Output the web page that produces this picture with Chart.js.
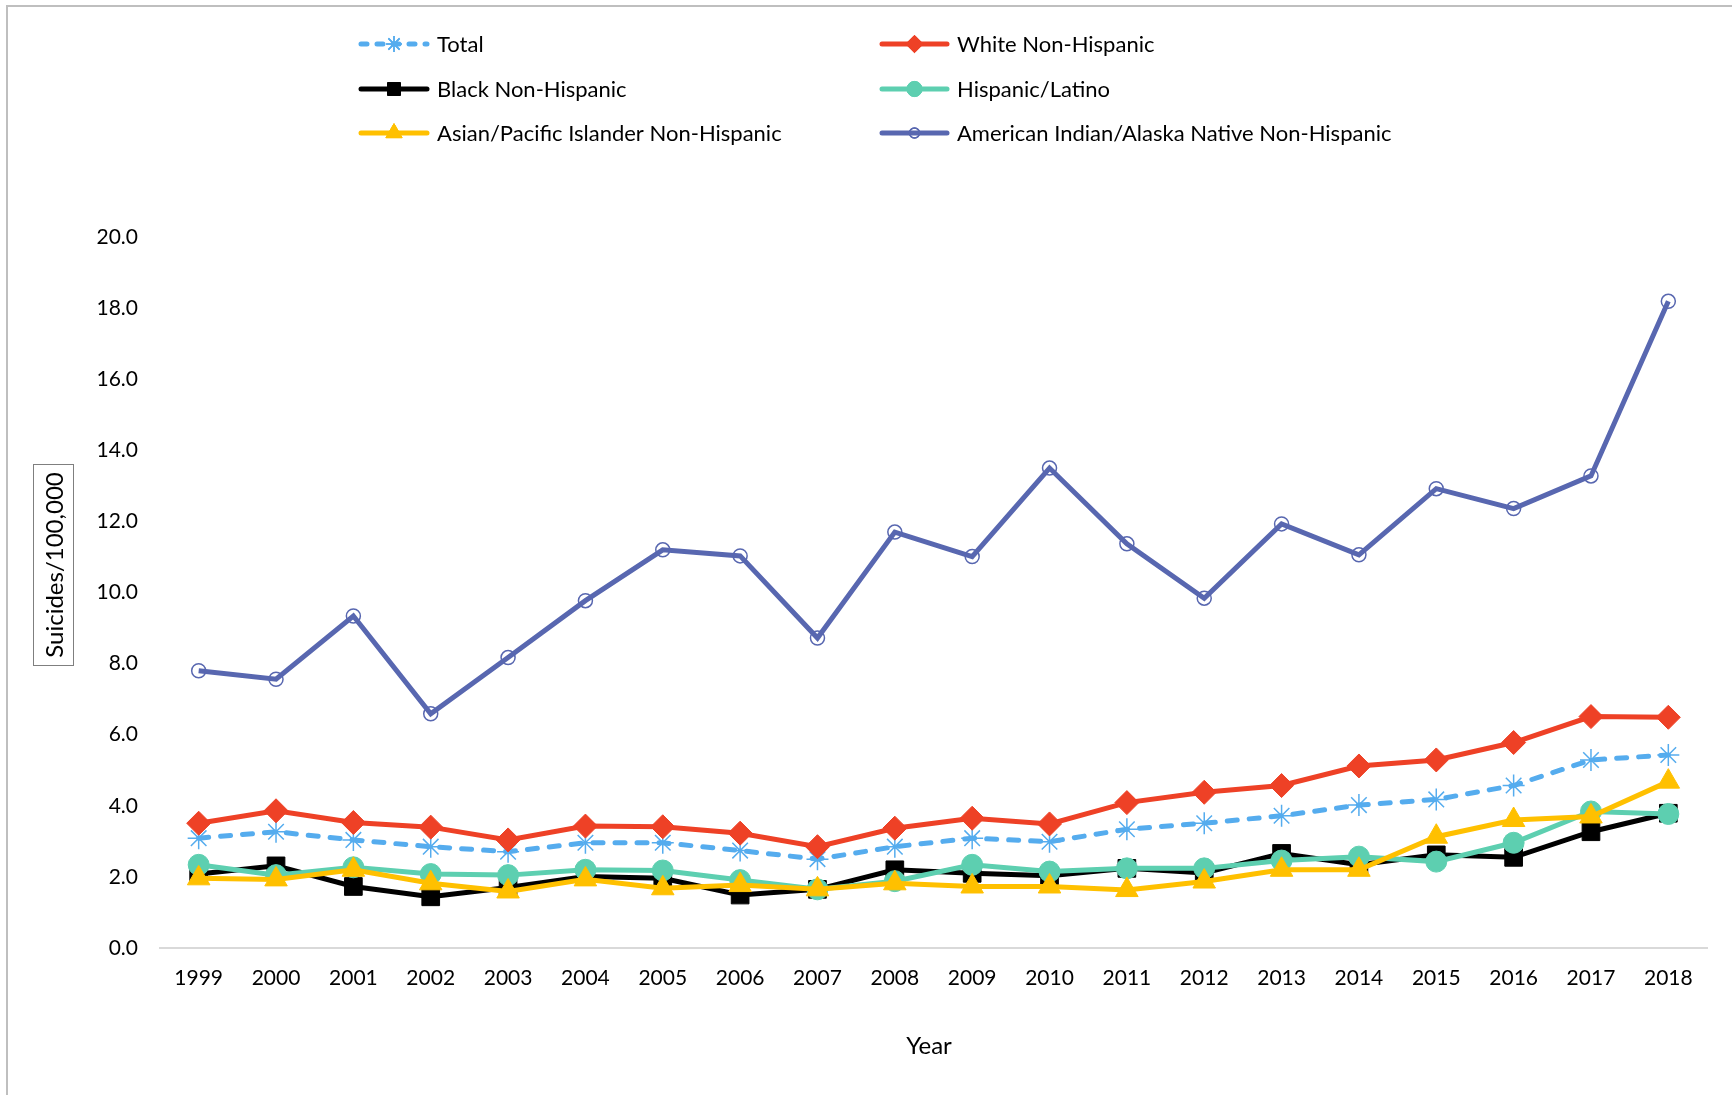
<!DOCTYPE html>
<html>
<head>
<meta charset="utf-8">
<script src="https://cdn.jsdelivr.net/npm/chart.js"></script>
<style>
  html, body { margin: 0; padding: 0; background: #fff; }
  #wrap { width: 1732px; height: 1095px; position: relative; }
</style>
</head>
<body>
<div id="wrap"><canvas id="c" width="1732" height="1095"></canvas></div>
<script>
// suicide rates per 100,000
const years = ["1999","2000","2001","2002","2003","2004","2005","2006","2007","2008",
               "2009","2010","2011","2012","2013","2014","2015","2016","2017","2018"];
const yTicks = [0, 2, 4, 6, 8, 10, 12, 14, 16, 18, 20];

const total    = [3.09,3.27,3.04,2.85,2.71,2.96,2.96,2.74,2.50,2.85,3.09,2.99,3.34,3.51,3.72,4.02,4.18,4.57,5.29,5.43];
const white    = [3.51,3.86,3.53,3.40,3.04,3.43,3.41,3.23,2.85,3.37,3.65,3.49,4.09,4.38,4.57,5.12,5.29,5.78,6.51,6.49];
const black    = [2.08,2.31,1.73,1.44,1.70,2.01,1.96,1.49,1.65,2.20,2.10,2.03,2.24,2.11,2.66,2.34,2.62,2.55,3.27,3.79];
const hispanic = [2.34,2.05,2.27,2.08,2.05,2.20,2.18,1.91,1.65,1.88,2.34,2.15,2.24,2.24,2.46,2.57,2.43,2.96,3.84,3.77];
const asian    = [1.96,1.93,2.20,1.82,1.59,1.93,1.68,1.77,1.65,1.82,1.73,1.73,1.63,1.87,2.20,2.20,3.13,3.60,3.70,4.68];
const aian     = [7.80,7.56,9.34,6.59,8.17,9.77,11.20,11.03,8.72,11.70,11.01,13.50,11.37,9.84,11.93,11.06,12.92,12.36,13.28,18.19];

const FONT = "Lato, 'Open Sans', sans-serif";

function series(label, data, color, style, radius, order, extra) {
  return Object.assign({
    label, data, order,
    borderColor: color,
    backgroundColor: color,
    borderWidth: 5,
    tension: 0,
    pointStyle: style,
    pointRadius: radius,
    pointHoverRadius: radius,
    pointBackgroundColor: color,
    pointBorderColor: color,
    pointBorderWidth: 1
  }, extra || {});
}

const datasets = [
  series("Total", total, "#55acee", "star", 11, 6,
         { borderDash: [10, 12], borderCapStyle: "round", pointBorderWidth: 1.5 }),
  series("White Non-Hispanic", white, "#ee4126", "rectRot", 12, 5),
  series("Black Non-Hispanic", black, "#000000", "rect", 12.5, 4),
  series("Hispanic/Latino", hispanic, "#5dcfb0", "circle", 10.5, 3),
  series("Asian/Pacific Islander Non-Hispanic", asian, "#ffc000", "triangle", 13, 2),
  series("American Indian/Alaska Native Non-Hispanic", aian, "#5867b0", "circle", 7, 1,
         { pointBackgroundColor: "rgba(255,255,255,0)", pointBorderColor: "#5867b0", pointBorderWidth: 1.5 })
];

function marker(ctx, ds, x, y, r) {
  ctx.save();
  ctx.fillStyle = ds.pointBackgroundColor;
  ctx.strokeStyle = ds.pointBorderColor;
  ctx.lineWidth = ds.pointBorderWidth;
  ctx.setLineDash([]);
  if (Chart.helpers && Chart.helpers.drawPoint) {
    Chart.helpers.drawPoint(ctx, { pointStyle: ds.pointStyle, radius: r, rotation: 0, borderWidth: ds.pointBorderWidth }, x, y);
    ctx.fill();
    if (ds.pointBorderWidth) ctx.stroke();
  }
  ctx.restore();
}

// legend, frame and axis titles
const decor = {
  id: "decor",
  afterDraw(chart) {
    const ctx = chart.ctx;
    ctx.save();
    // chart frame (top and left edges visible)
    ctx.strokeStyle = "#bfbfbf";
    ctx.lineWidth = 2;
    ctx.beginPath();
    ctx.moveTo(7, 1095); ctx.lineTo(7, 6); ctx.lineTo(1732, 6);
    ctx.stroke();

    // legend: two columns, three rows
    const cols = [{ x0: 358, x1: 430, tx: 437 }, { x0: 879, x1: 950, tx: 957 }];
    const rows = [44, 89, 133];
    ctx.font = "22px " + FONT;
    ctx.textBaseline = "middle";
    ctx.textAlign = "left";
    chart.data.datasets.forEach((ds, i) => {
      const c = cols[i % 2], y = rows[Math.floor(i / 2)];
      ctx.save();
      ctx.strokeStyle = ds.borderColor;
      ctx.lineWidth = 5;
      ctx.lineCap = "round";
      ctx.setLineDash(ds.borderDash ? [6, 10] : []);
      ctx.beginPath();
      ctx.moveTo(c.x0 + 3, y); ctx.lineTo(c.x1 - 3, y);
      ctx.stroke();
      ctx.restore();
      marker(ctx, ds, (c.x0 + c.x1) / 2, y, ds.pointRadius * 0.72);
      ctx.fillStyle = "#000";
      ctx.fillText(ds.label, c.tx, y + 1);
    });

    // y axis title in a box
    ctx.strokeStyle = "#7f7f7f";
    ctx.lineWidth = 1;
    ctx.strokeRect(33.5, 464.5, 40, 201);
    ctx.save();
    ctx.translate(54, 565);
    ctx.rotate(-Math.PI / 2);
    ctx.font = "24px " + FONT;
    ctx.textAlign = "center";
    ctx.textBaseline = "middle";
    ctx.fillStyle = "#000";
    ctx.fillText("Suicides/100,000", 0, 1);
    ctx.restore();

    // x axis title
    ctx.font = "24px " + FONT;
    ctx.textAlign = "center";
    ctx.textBaseline = "middle";
    ctx.fillStyle = "#000";
    ctx.fillText("Year", 929, 1046);
    ctx.restore();
  }
};

new Chart(document.getElementById("c"), {
  type: "line",
  data: { labels: years, datasets },
  options: {
    responsive: false,
    animation: false,
    layout: { padding: { top: 237, right: 25, bottom: 0, left: 0 } },
    plugins: { legend: { display: false }, tooltip: { enabled: false } },
    scales: {
      x: {
        offset: true,
        grid: { display: false, drawTicks: false },
        border: { display: true, color: "#d9d9d9", width: 2 },
        ticks: { color: "#000", padding: 18, font: { family: FONT, size: 21 }, maxRotation: 0, autoSkip: false },
        afterFit(s) { s.height = 147; }
      },
      y: {
        min: 0, max: 20,
        grid: { display: false, drawTicks: false },
        border: { display: false },
        afterBuildTicks(s) { s.ticks = yTicks.map(v => ({ value: v })); },
        ticks: { color: "#000", padding: 22, font: { family: FONT, size: 21 }, callback: v => v.toFixed(1) },
        afterFit(s) { s.width = 160; }
      }
    }
  },
  plugins: [decor]
});
</script>
</body>
</html>
